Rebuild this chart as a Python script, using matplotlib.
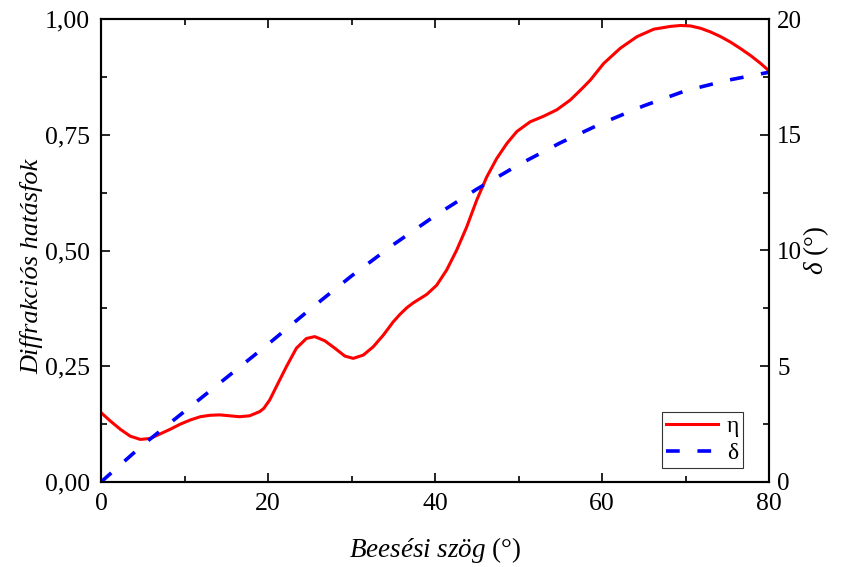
import matplotlib
matplotlib.use("Agg")
import matplotlib.pyplot as plt
from matplotlib.ticker import MultipleLocator, FuncFormatter

plt.rcParams['font.family'] = ['Liberation Serif', 'DejaVu Serif']
plt.rcParams['mathtext.fontset'] = 'custom'
plt.rcParams['mathtext.rm'] = 'Liberation Serif'
plt.rcParams['mathtext.it'] = 'Liberation Serif:italic'

# eta: diffraction efficiency vs incidence angle
eta_x = [0, 1.1, 2.3, 3.5, 4.7, 5.9, 7.1, 8.3, 9.5, 10.7, 11.9, 13.0, 14.2, 15.4,
         16.6, 17.8, 19.0, 19.5, 20.2, 21.0, 22.2, 23.4, 24.6, 25.6, 26.8, 28.0,
         29.2, 30.2, 31.4, 32.6, 33.8, 35.0, 35.8, 36.6, 37.4, 39.0, 40.2, 41.4, 42.6,
         43.8, 45.0, 46.2, 47.4, 48.6, 49.8, 51.4, 53.0, 54.6, 56.2, 57.4, 58.6,
         60.2, 62.2, 64.2, 66.2, 68.2, 69.4, 70.6, 71.8, 73.0, 74.2, 75.4, 76.6,
         77.8, 79.0, 80.0]
eta_y = [0.150, 0.132, 0.114, 0.099, 0.092, 0.094, 0.104, 0.114, 0.125, 0.134,
         0.141, 0.144, 0.145, 0.143, 0.141, 0.143, 0.152, 0.159, 0.177, 0.206,
         0.249, 0.289, 0.310, 0.314, 0.305, 0.289, 0.272, 0.267, 0.274, 0.292,
         0.317, 0.346, 0.362, 0.376, 0.387, 0.405, 0.425, 0.458, 0.501, 0.551, 0.609,
         0.659, 0.699, 0.731, 0.757, 0.778, 0.790, 0.804, 0.825, 0.846, 0.868,
         0.904, 0.937, 0.962, 0.978, 0.984, 0.986, 0.985, 0.980, 0.972, 0.962,
         0.950, 0.936, 0.921, 0.904, 0.888]

# delta (degrees) vs incidence angle
delta_x = [0, 5, 10, 15, 20, 25, 30, 35, 40, 45, 50, 55, 60, 65, 70, 75, 80]
delta_y = [0.0, 1.6, 3.05, 4.5, 5.95, 7.45, 8.9, 10.25, 11.5, 12.65, 13.7, 14.65,
           15.5, 16.25, 16.9, 17.35, 17.7]

x_ticks = [0, 20, 40, 60, 80]
left_ticks = [0, 0.25, 0.5, 0.75, 1.0]
right_ticks = [0, 5, 10, 15, 20]

fig = plt.figure(figsize=(8.48, 5.67), dpi=100)
ax = fig.add_axes([101/848, 85/567, 668/848, 463/567])
ax2 = ax.twinx()

l1, = ax.plot(eta_x, eta_y, color='#ff0000', lw=2.2, label='η')
l2, = ax2.plot(delta_x, delta_y, color='#0000ff', lw=2.6, ls=(0, (3.8, 4.9)), label='δ')

ax.set_xlim(0, 80)
ax.set_ylim(0, 1.0)
ax2.set_ylim(0, 20)
ax.set_xticks(x_ticks)
ax.set_yticks(left_ticks)
ax2.set_yticks(right_ticks)
ax.xaxis.set_minor_locator(MultipleLocator(10))
ax.yaxis.set_minor_locator(MultipleLocator(0.125))
ax2.yaxis.set_minor_locator(MultipleLocator(2.5))
ax.yaxis.set_major_formatter(FuncFormatter(lambda v, p: f"{v:.2f}".replace('.', ',')))

for a in (ax, ax2):
    for s in a.spines.values():
        s.set_linewidth(1.5)
ax.tick_params(which='both', direction='in', top=True, labelsize=18.5, width=1.2)
ax.tick_params(which='major', length=6.5)
ax.tick_params(which='minor', length=4.3)
ax2.tick_params(which='both', direction='in', labelsize=18, width=1.2, pad=6)
ax2.tick_params(which='major', length=6.5)
ax2.tick_params(which='minor', length=4.3)
ax.tick_params(axis='x', pad=8)
ax.tick_params(axis='y', pad=8)

ax.set_xlabel(r'$\it{Beesési\ szög}$ (°)', fontsize=19.5, labelpad=14)
ax.set_ylabel('Diffrakciós hatásfok', fontsize=19, style='italic')
ax.yaxis.set_label_coords(-0.086, 0.4665)
ax2.set_ylabel(r'$\it{δ}$ (°)', fontsize=19.5)
ax2.yaxis.set_label_coords(1.049, 0.5)

leg = ax2.legend(handles=[l1, l2], loc='lower right', bbox_to_anchor=(743/848, 85/567 + 14/567),
                 bbox_transform=fig.transFigure, fontsize=17, frameon=True, fancybox=False,
                 edgecolor='black', handlelength=2.2, borderpad=0.15, labelspacing=0.25,
                 handletextpad=0.4, borderaxespad=0)
leg.get_frame().set_linewidth(0.8)

fig.savefig('out.png', dpi=100)
